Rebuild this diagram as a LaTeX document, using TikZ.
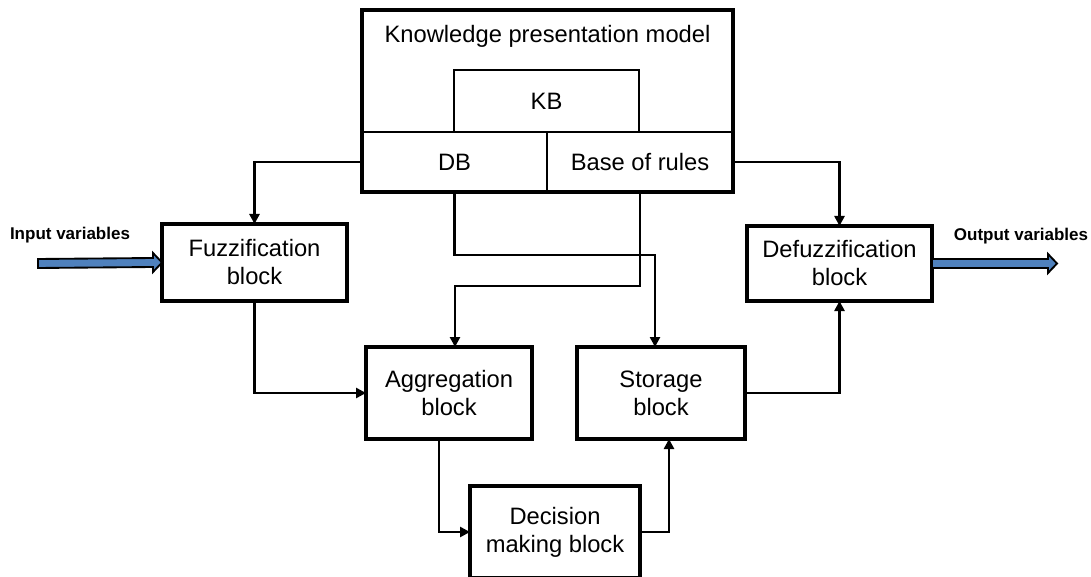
\documentclass[tikz,border=0pt]{standalone}
\usepackage{fontspec}
\setmainfont{Liberation Sans}
\usetikzlibrary{arrows.meta,calc}
\definecolor{arrowblue}{RGB}{79,129,189}
\begin{document}
\begin{tikzpicture}[x=0.75pt,y=-0.75pt,
  blk/.style={draw, line width=2.5pt, rectangle, inner sep=0pt, outer sep=0pt, align=center,
              font=\fontsize{17.8}{21}\selectfont},
  cell/.style={draw, line width=1.5pt, rectangle, inner sep=0pt, outer sep=0pt, align=center,
              font=\fontsize{17.8}{21}\selectfont},
  conn/.style={line width=2pt, -{Triangle[length=7.5pt,width=7.5pt]}},
  lbl/.style={font=\bfseries\fontsize{12.75}{15}\selectfont, inner sep=0pt},
  bluearrow/.style={draw=black, line width=1.4pt, fill=arrowblue, line join=miter}
]
\useasboundingbox (0,0) rectangle (1091,577);

% knowledge presentation model
\node[cell, minimum width=185*0.75pt, minimum height=62*0.75pt] (kb) at (546.5,101) {KB};
\node[cell, minimum width=185*0.75pt, minimum height=60*0.75pt] (db) at (454.5,162) {DB};
\node[cell, minimum width=186*0.75pt, minimum height=60*0.75pt] (rules) at (640,162) {Base of rules};
\node[draw, line width=2.3pt, inner sep=0pt, outer sep=0pt, minimum width=371*0.75pt, minimum height=182*0.75pt] (kpm) at (547.5,101) {};
\node[font=\fontsize{17.8}{21}\selectfont, inner sep=0pt] (kpmtitle) at (547.5,36) {Knowledge presentation model};

% blocks
\node[blk, minimum width=185*0.75pt, minimum height=77*0.75pt] (fuzz) at (254.5,262.5) {Fuzzification\\block};
\node[blk, minimum width=185*0.75pt, minimum height=75*0.75pt] (defuzz) at (839.5,263.5) {Defuzzification\\block};
\node[blk, minimum width=166*0.75pt, minimum height=92*0.75pt] (agg) at (449,393) {Aggregation\\block};
\node[blk, minimum width=168*0.75pt, minimum height=92*0.75pt] (stor) at (661,393) {Storage\\block};
\node[blk, minimum width=170*0.75pt, minimum height=92*0.75pt] (dec) at (555,532) {Decision\\making block};

% connectors
\draw[conn] (db.west) -- (fuzz.north |- db.west) -- (fuzz.north);
\draw[conn] (rules.east) -- (defuzz.north |- rules.east) -- (defuzz.north);
\coordinate (s1) at (655,255);
\draw[conn] (db.south) |- (s1) -- (s1 |- stor.north);
\coordinate (s2) at (455,286);
\draw[conn] (rules.south) |- (s2) -- (s2 |- agg.north);
\draw[conn] (fuzz.south) |- (agg.west);
\coordinate (a1) at (439,439);
\draw[conn] (a1) |- (dec.west);
\coordinate (d1) at (669,532);
\draw[conn] (dec.east) -- (d1) -- (d1 |- stor.south);
\draw[conn] (stor.east) -| (defuzz.south);

% input / output arrows
\coordinate (inS) at (38,263.5);
\draw[bluearrow] ($(inS)+(0,-4.5)$) -- ($(fuzz.west)+(-9,-4.5)$) -- ($(fuzz.west)+(-9,-9.5)$)
   -- (fuzz.west) -- ($(fuzz.west)+(-9,9.5)$) -- ($(fuzz.west)+(-9,4.5)$) -- ($(inS)+(0,4.5)$) -- cycle;
\coordinate (outE) at (1057,263.5);
\draw[bluearrow] ($(defuzz.east)+(0,-4.5)$) -- ($(outE)+(-9,-4.5)$) -- ($(outE)+(-9,-9.5)$)
   -- (outE) -- ($(outE)+(-9,9.5)$) -- ($(outE)+(-9,4.5)$) -- ($(defuzz.east)+(0,4.5)$) -- cycle;

\node[lbl] (inlbl) at (70,235) {Input variables};
\node[lbl] (outlbl) at (1021,236) {Output variables};
\end{tikzpicture}
\end{document}
